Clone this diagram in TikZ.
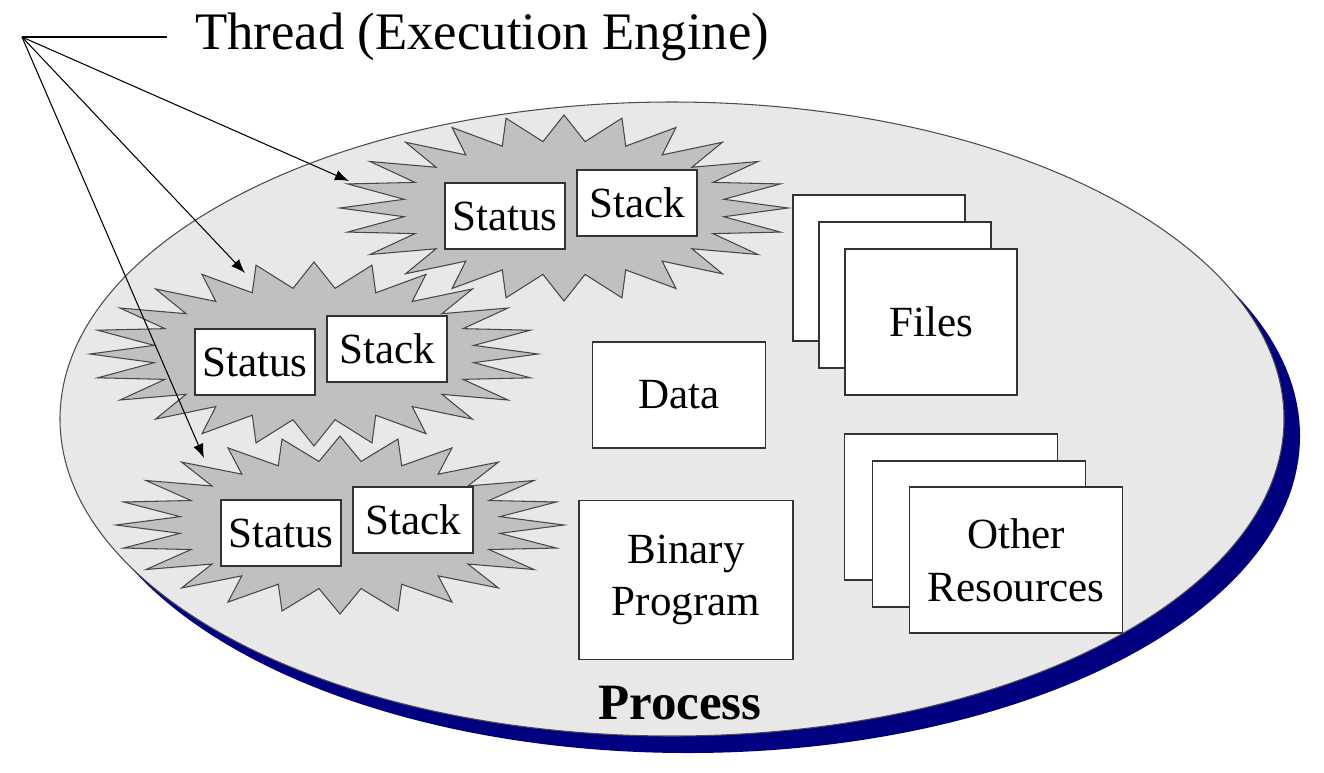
\documentclass[tikz,border=0pt]{standalone}
\usepackage{fontspec}
\setmainfont{Liberation Serif}
\usetikzlibrary{arrows.meta,calc,positioning}

\definecolor{procgray}{RGB}{232,232,232}
\definecolor{burstgray}{RGB}{192,192,192}
\definecolor{procnavy}{RGB}{0,0,128}

\tikzset{
  res/.style={draw=black!80, fill=white, line width=0.8pt, inner sep=0pt,
    align=center, font=\fontsize{24.5}{30}\selectfont},
  burst/.style={draw=black!72, fill=burstgray, line width=0.6pt, line join=miter},
  pointer/.style={line width=0.6pt, -{Latex[length=8pt,width=6pt]}}
}

% starburst round a coordinate: \drawburst{centre}{x radius}{y radius}
\newcommand{\drawburst}[3]{%
  \draw[burst, shift={(#1)}] plot[domain=0:47, samples=48, variable=\k]
    ({(1-0.28*mod(round(\k),2))*#2*cos(7.5*\k)},
     {(1-0.28*mod(round(\k),2))*#3*sin(7.5*\k)}) -- cycle;}

\begin{document}
\begin{tikzpicture}[x=0.02cm, y=-0.02cm]
    \useasboundingbox (0,0) rectangle (1324,772);

    % Process ellipse and its shadow
    \fill[procnavy] (688,436) ellipse [x radius=612, y radius=317];
    \draw[fill=procgray, draw=black!70, line width=0.6pt]
        (672,419) ellipse [x radius=612, y radius=317];

    % Threads
    \foreach \n/\cx/\cy/\ry in {1/564/208/93, 2/314/354/92, 3/340/525/89} {
        \coordinate (b\n) at (\cx,\cy);
        \drawburst{b\n}{224}{\ry}
        \node[res, minimum width=2.4cm, minimum height=1.32cm] (status\n)
            at ({\cx-59},{\cy+8}) {Status};
        \node[res, minimum width=2.4cm, minimum height=1.32cm] (stack\n)
            at ({\cx+73},{\cy-5}) {Stack};
    }

    % Files
    \node[res, minimum width=3.44cm, minimum height=2.92cm] (file1) at (879,268) {};
    \node[res, minimum width=3.44cm, minimum height=2.92cm] (file2) at (905,295) {};
    \node[res, minimum width=3.44cm, minimum height=2.92cm] (files) at (931,322) {Files};

    % Other resources
    \node[res, minimum width=4.26cm, minimum height=2.92cm] (other1) at (951,507) {};
    \node[res, minimum width=4.26cm, minimum height=2.92cm] (other2) at (979,534) {};
    \node[res, minimum width=4.26cm, minimum height=2.92cm] (other) at (1016,560)
        {Other\\Resources};

    % Data and program
    \node[res, minimum width=3.46cm, minimum height=2.12cm] (data) at (679,395) {Data};
    \node[res, minimum width=4.28cm, minimum height=3.18cm] (binary) at (686,580)
        {Binary\\Program};

    \node[font=\bfseries\fontsize{29}{34}\selectfont] (proc) at (680,703) {Process};

    % Thread label and pointers
    \coordinate (apex) at (22,37);
    \node[anchor=west, inner xsep=0.56cm, inner ysep=0pt,
        font=\fontsize{30}{36}\selectfont] (thread) at (167,37) {Thread (Execution Engine)};
    \draw[line width=0.6pt] (apex) -- (thread.west);
    \coordinate (t1) at ($(b1)+(-215,-27)$);
    \coordinate (t2) at ($(b2)+(-69,-81)$);
    \coordinate (t3) at ($(b3)+(-136,-67)$);
    \foreach \n in {1,2,3}
        \draw[pointer] (apex) -- (t\n);

\end{tikzpicture}
\end{document}
